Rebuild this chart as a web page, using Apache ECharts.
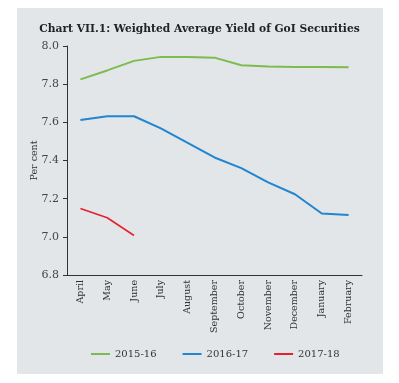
<!DOCTYPE html>
<html><head><meta charset="utf-8">
<script src="https://cdn.jsdelivr.net/npm/echarts@6/dist/echarts.min.js"></script>
<style>html,body{margin:0;padding:0;background:#fff}#c{width:399px;height:383px}</style>
</head><body><div id="c"></div>
<script>
const months = ['April','May','June','July','August','September','October','November','December','January','February'];
const fy1516 = [7.825, 7.872, 7.922, 7.943, 7.942, 7.939, 7.899, 7.892, 7.890, 7.890, 7.889];
const fy1617 = [7.612, 7.632, 7.632, 7.568, 7.492, 7.416, 7.360, 7.285, 7.223, 7.122, 7.114];
const fy1718 = [7.149, 7.100, 7.007];
const yTicks = [6.8, 7.0, 7.2, 7.4, 7.6, 7.8, 8.0];

const font = '"DejaVu Serif", "Liberation Serif", serif';
const chart = echarts.init(document.getElementById('c'));
chart.setOption({
  animation: false,
  graphic: [{type:'rect', z:-10, shape:{x:17,y:8,width:366,height:366}, style:{fill:'#e2e6e9'}}],
  title: {text:'Chart VII.1: Weighted Average Yield of GoI Securities', left:'center', top:19,
    textStyle:{fontFamily:font, fontWeight:'bold', fontSize:10.7, color:'#222'}},
  grid: {left:67, top:46, right:37, bottom:108},
  legend: {bottom:19, left:86, itemWidth:19, itemHeight:2, itemGap:26, icon:'rect',
    textStyle:{fontFamily:font, fontSize:10, color:'#333'},
    data:['2015-16','2016-17','2017-18']},
  xAxis: {type:'category', data:months, boundaryGap:true,
    axisLine:{lineStyle:{color:'#333'}},
    axisTick:{alignWithLabel:true, length:4, lineStyle:{color:'#333'}},
    axisLabel:{rotate:90, interval:0, fontFamily:font, fontSize:9.5, color:'#333', margin:5}},
  yAxis: {type:'value', min:6.8, max:8.0, interval:0.2,
    name:'Per cent', nameLocation:'middle', nameGap:27, nameMoveOverlap:false,
    nameTextStyle:{fontFamily:font, fontSize:9.5, color:'#333'},
    axisLine:{show:true, lineStyle:{color:'#333'}},
    axisTick:{show:true, length:4, lineStyle:{color:'#333'}},
    splitLine:{show:false},
    axisLabel:{fontFamily:font, fontSize:11, color:'#444', margin:8, formatter:v=>v.toFixed(1)}},
  series: [
    {name:'2015-16', type:'line', data:fy1516, symbol:'none', lineStyle:{color:'#7dbb4e', width:2}, itemStyle:{color:'#7dbb4e'}},
    {name:'2016-17', type:'line', data:fy1617, symbol:'none', lineStyle:{color:'#1f86cf', width:2}, itemStyle:{color:'#1f86cf'}},
    {name:'2017-18', type:'line', data:fy1718, symbol:'none', lineStyle:{color:'#e8202e', width:1.6}, itemStyle:{color:'#e8202e'}}
  ]
});
</script></body></html>
